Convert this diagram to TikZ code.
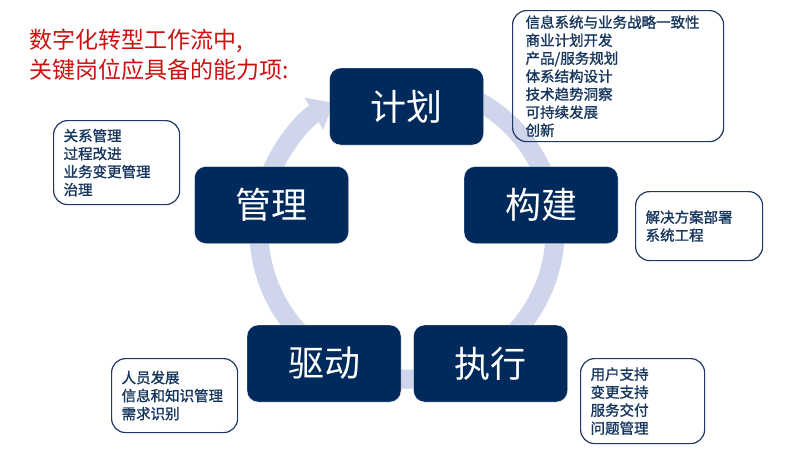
\documentclass[tikz,border=0pt]{standalone}
\usepackage{fontspec}
\setmainfont{Noto Sans CJK SC}
\newfontfamily\notefont[FakeBold=1.3]{Noto Sans CJK SC}
\usetikzlibrary{arrows.meta}
\definecolor{navybox}{RGB}{0,41,92}
\definecolor{navyline}{RGB}{31,56,100}
\definecolor{navytext}{RGB}{23,54,93}
\definecolor{ringblue}{RGB}{207,213,234}
\definecolor{titlered}{RGB}{204,16,16}

\begin{document}
\begin{tikzpicture}[x=1pt, y=-1pt]
  \tikzstyle{stage}=[rectangle, rounded corners=11pt, fill=navybox, draw=white, thin, text=white, minimum width=154pt, minimum height=77pt, font=\fontsize{36}{40}\selectfont]
  \tikzstyle{note}=[rectangle, rounded corners=14pt, draw=navyline, line width=1.2pt, inner xsep=10pt, inner ysep=0pt, align=left, text=navytext, anchor=north west, font=\notefont\fontsize{14.5}{18}\selectfont]
  \useasboundingbox (0,0) rectangle (800,450);
  \coordinate (C) at (407,231);
  % ring behind the stages
  \draw[ringblue, line width=19pt, -{Triangle[width=36pt,length=22pt]}]
    (C) ++(290:148) arc[start angle=290, end angle=600, radius=148];
  \node[anchor=west, inner sep=0pt, align=left, text=titlered, font=\fontsize{23}{30}\selectfont] (title) at (29,55) {数字化转型工作流中,\\关键岗位应具备的能力项:};
  \node[stage] (JH) at (406.5,106.5) {计划};
  \node[stage] (GJ) at (541,205) {构建};
  \node[stage] (ZX) at (490.5,363.5) {执行};
  \node[stage] (QD) at (324,363.5) {驱动};
  \node[stage] (GL) at (271.5,205) {管理};
  % notes
  \node[note, inner xsep=13pt, text width=185pt, minimum height=131pt] (NJH) at (512,10) {信息系统与业务战略一致性\\商业计划开发\\产品/服务规划\\体系结构设计\\技术趋势洞察\\可持续发展\\创新};
  \node[note, text width=107pt, minimum height=69pt] (NGJ) at (635,191) {解决方案部署\\系统工程};
  \node[note, text width=104pt, minimum height=85pt] (NZX) at (580,358) {用户支持\\变更支持\\服务交付\\问题管理};
  \node[note, text width=106pt, minimum height=74pt] (NQD) at (111,358) {人员发展\\信息和知识管理\\需求识别};
  \node[note, text width=106pt, minimum height=84pt] (NGL) at (53,120) {关系管理\\过程改进\\业务变更管理\\治理};
\end{tikzpicture}
\end{document}
